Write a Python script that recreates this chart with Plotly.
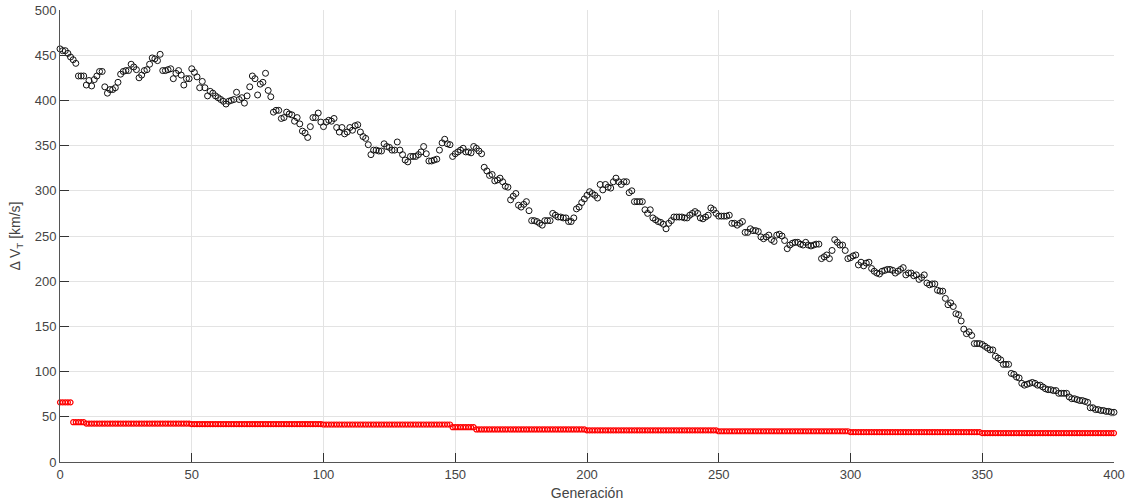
import plotly.graph_objects as go

generations = list(range(401))

best_dv = [
    457,455,455,452,448,445,441,427,427,427,
    417,422,416,423,427,432,432,415,408,412,
    412,414,420,429,432,433,433,440,437,434,
    425,428,433,434,440,447,446,444,451,433,
    433,434,435,424,430,433,428,417,424,424,
    435,431,426,414,421,414,405,410,408,405,
    403,401,399,396,399,400,401,409,401,403,
    397,405,415,427,424,406,418,420,430,411,
    404,387,389,389,380,381,387,385,384,377,
    381,374,366,364,359,371,381,381,386,376,
    371,376,378,377,380,370,365,370,363,365,
    370,367,372,373,365,360,358,351,340,345,
    345,344,344,352,349,348,345,345,354,345,
    340,334,332,338,338,338,340,343,349,341,
    333,333,334,335,345,353,357,352,351,338,
    341,343,345,347,343,343,342,349,347,344,
    341,326,322,317,318,311,312,314,310,305,
    304,290,294,297,284,282,285,288,278,267,
    267,266,264,262,267,267,267,275,273,271,
    271,270,270,266,266,270,280,282,287,291,
    295,299,297,295,292,307,301,307,304,303,
    310,314,310,307,310,310,298,300,288,288,
    288,288,279,275,279,270,268,266,265,263,
    258,264,267,271,271,271,271,270,270,273,
    275,277,275,270,269,271,273,281,279,275,
    272,272,272,272,273,264,264,262,264,266,
    254,254,258,256,256,255,249,247,249,251,
    246,244,251,252,250,245,236,240,242,243,
    243,241,240,243,240,239,240,241,241,225,
    227,229,225,234,246,243,240,240,234,225,
    226,228,229,218,221,217,220,221,214,211,
    209,208,211,212,213,213,212,209,211,213,
    215,207,209,209,206,207,202,204,207,198,
    196,197,197,190,189,189,181,174,176,172,
    164,163,156,147,142,144,140,131,131,131,
    130,128,126,124,124,117,115,113,108,108,
    108,98,97,94,93,87,85,86,87,88,
    87,85,85,83,81,80,80,79,79,76,
    76,76,76,72,70,70,69,68,68,67,
    66,60,60,58,58,57,57,56,56,55,
    55,
]

elite_dv = (
    [66] * 5 + [44] * 5 + [42.5] * 40 + [42] * 50 + [41.5] * 49
    + [38.5] * 9 + [36] * 42 + [35] * 50 + [34] * 50 + [33] * 50 + [32] * 51
)

x_ticks = [0, 50, 100, 150, 200, 250, 300, 350, 400]
y_ticks = [0, 50, 100, 150, 200, 250, 300, 350, 400, 450, 500]

fig = go.Figure()
fig.add_trace(go.Scatter(
    x=generations, y=best_dv, mode="markers", cliponaxis=False,
    marker=dict(symbol="circle-open", size=6, color="#111111", line=dict(width=1, color="#111111")),
    showlegend=False,
))
fig.add_trace(go.Scatter(
    x=generations, y=elite_dv, mode="markers", cliponaxis=False,
    marker=dict(symbol="circle-open", size=5, color="#ff0000", line=dict(width=1.2, color="#ff0000")),
    showlegend=False,
))

axis_font = dict(family="Liberation Sans, Arial, sans-serif", size=13, color="#444444")
fig.update_layout(
    width=1125, height=504,
    margin=dict(l=60, r=11, t=10, b=42),
    paper_bgcolor="white", plot_bgcolor="white",
    font=axis_font,
)
fig.update_xaxes(
    range=[0, 400], tickvals=x_ticks, ticktext=[str(v) for v in x_ticks],
    automargin=False,
    showgrid=True, gridcolor="#e3e3e3", gridwidth=1, zeroline=False,
    showline=True, linecolor="#555555", linewidth=1, mirror=False,
    ticks="inside", ticklen=9, tickcolor="#333333", tickwidth=1,
    title=dict(text="Generación", font=dict(size=14, color="#444444"), standoff=7),
)
fig.update_yaxes(
    range=[0, 500], tickvals=y_ticks, ticktext=[str(v) for v in y_ticks],
    automargin=False,
    showgrid=True, gridcolor="#e3e3e3", gridwidth=1, zeroline=False,
    showline=True, linecolor="#555555", linewidth=1, mirror=False,
    ticks="inside", ticklen=9, tickcolor="#333333", tickwidth=1,
    title=dict(text="Δ V<sub>T</sub> [km/s]", font=dict(size=14, color="#444444"), standoff=10),
)

fig.write_html("out.html", config={"displayModeBar": False},
               post_script="document.body.style.margin='0';")
